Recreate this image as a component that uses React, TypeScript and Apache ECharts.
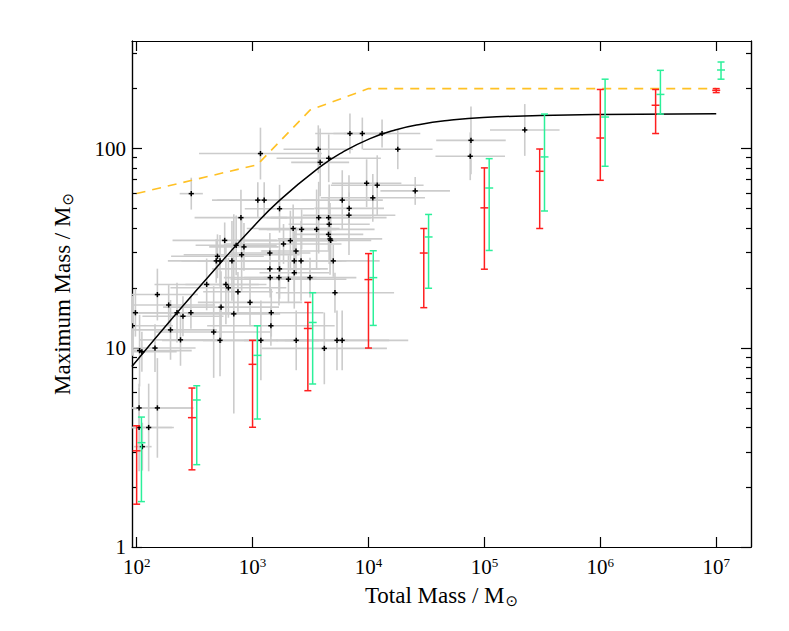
import React, { useEffect, useRef } from "react";
import * as echarts from "echarts";

// ---- Observed clusters (black crosses with grey error bars) ----
const clusterMass = [
  1170, 296, 1110, 1260, 794, 1710, 575, 722, 843, 498, 805, 1410, 486, 524, 664, 1410, 1710, 1420, 1690,
  6920, 8850, 13100, 17900, 3690, 3830, 4540, 9640, 11900, 25300, 10900, 5940, 6820, 6790, 3720, 4530, 4580,
  2240, 2650, 3570, 4520, 4660, 4720, 2120, 1850, 2370, 2290, 2620, 4970, 2290, 2040, 3130,
  402, 589, 619, 748, 151, 189, 951, 535, 97.6, 223, 251, 294, 689, 1450, 196, 462, 1440, 239, 524, 1180,
  144, 106, 111, 92, 105, 151, 105, 127, 112, 5140, 2380, 4160, 5350, 5930, 76600, 75500, 223000,
];
const clusterMassErrDex = [
  0.53, 0.1, 0.35, 0.45, 0.4, 0.3, 0.45, 0.35, 0.3, 0.4, 0.5, 0.35, 0.3, 0.45, 0.3, 0.5, 0.35, 0.4, 0.3,
  0.3, 0.25, 0.33, 0.3, 0.3, 0.25, 0.45, 0.3, 0.4, 0.3, 0.45, 0.35, 0.3, 0.4, 0.45, 0.5, 0.35,
  0.4, 0.3, 0.5, 0.3, 0.45, 0.35, 0.4, 0.5, 0.3, 0.45, 0.35, 0.4, 0.3, 0.5, 0.4,
  0.45, 0.35, 0.5, 0.3, 0.35, 0.4, 0.45, 0.5, 0.4, 0.5, 0.35, 0.45, 0.4, 0.45, 0.4, 0.5, 0.55, 0.35, 0.5, 0.5,
  0.35, 0.45, 0.3, 0.35, 0.47, 0.3, 0.3, 0.2, 0.08, 0.51, 0.45, 0.54, 0.45, 0.57, 0.3, 0.3, 0.3,
];
const clusterMaxMass = [
  94.4, 59.4, 55.1, 55.1, 45.0, 49.9, 34.6, 32.7, 32.1, 28.8, 29.3, 29.9, 27.3, 27.3, 27.3, 24.9, 24.9, 22.5, 22.5,
  119, 119, 119, 99.2, 99.2, 85.3, 89.4, 67.0, 65.5, 61.3, 56.6, 55.1, 50.1, 46.3, 45.0, 45.0, 41.7,
  39.7, 39.3, 39.3, 37.1, 35.2, 34.6, 34.5, 33.2, 30.6, 27.3, 27.3, 27.3, 23.8, 22.1, 22.5,
  20.8, 20.8, 20.0, 19.1, 18.5, 16.4, 16.9, 16.0, 15.0, 15.0, 14.4, 15.0, 14.8, 15.0, 12.3, 12.0, 12.9, 10.96, 10.9, 10.9,
  9.97, 9.68, 9.55, 12.9, 4.99, 4.99, 3.98, 3.98, 3.19, 18.9, 10.9, 9.93, 10.9, 10.9, 110, 91.5, 124,
];
const clusterMaxMassErrDex = [
  0.13, 0.08, 0.09, 0.09, 0.14, 0.12, 0.09, 0.15, 0.12, 0.11, 0.18, 0.1, 0.11, 0.13, 0.2, 0.12, 0.15, 0.1, 0.14,
  0.1, 0.08, 0.07, 0.1, 0.12, 0.17, 0.12, 0.12, 0.15, 0.07, 0.12, 0.15, 0.08, 0.2, 0.18, 0.1, 0.2,
  0.12, 0.1, 0.2, 0.08, 0.18, 0.12, 0.15, 0.1, 0.12, 0.15, 0.2, 0.08, 0.18, 0.12, 0.1,
  0.13, 0.2, 0.15, 0.1, 0.13, 0.1, 0.12, 0.18, 0.12, 0.15, 0.1, 0.08, 0.5, 0.12, 0.15, 0.23, 0.1, 0.13, 0.18, 0.2,
  0.12, 0.18, 0.1, 0.15, 0.1, 0.25, 0.22, 0.22, 0.12, 0.1, 0.15, 0.18, 0.15, 0.15, 0.17, 0.12, 0.13,
];

// ---- Model A (red) ----
const redMass = [100, 300, 1000, 3000, 10000, 30000, 100000, 300000, 1000000, 3000000, 10000000];
const redMid = [3.04, 4.46, 8.26, 12.5, 22.0, 29.9, 50.4, 76.9, 113, 165, 196];
const redLo = [1.64, 2.44, 3.99, 6.09, 9.97, 15.9, 24.8, 39.7, 69.3, 119, 191];
const redHi = [4.06, 6.28, 10.9, 16.9, 29.7, 39.7, 80, 99.5, 198, 198, 200];

// ---- Model B (green) ----
const greenMass = [110, 330, 1100, 3300, 11000, 33000, 110000, 330000, 1100000, 3300000, 11000000];
const greenMid = [3.34, 5.47, 9.16, 13.4, 22.5, 36.0, 63.4, 90.8, 144, 187, 248];
const greenLo = [1.69, 2.59, 4.39, 6.58, 12.95, 19.9, 30.8, 48.6, 81.5, 149, 223];
const greenHi = [4.49, 6.45, 12.9, 18.9, 30.7, 46.7, 89, 149, 223, 247, 272];

// ---- Relation curve (black) ----
const curveMass = [91, 221, 524, 951, 1720, 3820, 6000, 10300, 17000, 27800, 50000, 97300, 302000, 1000000, 10000000];
const curveMax = [8.05, 14.9, 26.5, 38.9, 55.1, 80.9, 96, 112.2, 124, 132.2, 138.6, 143.2, 146.5, 148.3, 149.6];

// ---- Upper limit (orange dashed) ----
const limitMass = [100, 1100, 3130, 10000, 10000000];
const limitMax = [59.5, 83, 156, 200, 200];

// ---- Axes ----
const xMajorExp = [2, 3, 4, 5, 6, 7];
const yMajorLabels = ["1", "10", "100"];
const yMinorMult = [2, 3, 4, 5, 6, 7, 8, 9];

const L = Math.log10;
const SERIF = "Liberation Serif";

export default function App() {
  const ref = useRef<HTMLDivElement>(null);
  useEffect(() => {
    if (!ref.current) return;
    const chart = echarts.init(ref.current, undefined, { renderer: "svg" });
    const X_MIN = 1.96, X_MAX = 7.3, Y_MIN = 0, Y_MAX = 2.54;

    const yMinor: number[] = [];
    [1, 10, 100].forEach((d) => yMinorMult.forEach((m) => { const v = L(d * m); if (v < Y_MAX) yMinor.push(v); }));
    const yMajor = yMajorLabels.map((_, i) => i);

    const clusterData = clusterMass.map((m, i) => [L(m), L(clusterMaxMass[i]), clusterMassErrDex[i], clusterMaxMassErrDex[i]]);

    const errSeries = (xs: number[], mid: number[], lo: number[], hi: number[], color: string) => ({
      type: "custom",
      clip: true,
      silent: true,
      z: 5,
      encode: { x: 0, y: 1 },
      data: xs.map((x, i) => [L(x), L(mid[i]), L(lo[i]), L(hi[i])]),
      renderItem: (_p: any, api: any) => {
        const x = api.value(0);
        const m = api.coord([x, api.value(1)]);
        const lo = api.coord([x, api.value(2)]);
        const hi = api.coord([x, api.value(3)]);
        const st = { stroke: color, lineWidth: 1.5 };
        const w = 3.5;
        return {
          type: "group",
          children: [
            { type: "line", shape: { x1: m[0], y1: lo[1], x2: m[0], y2: hi[1] }, style: st },
            { type: "line", shape: { x1: m[0] - w, y1: lo[1], x2: m[0] + w, y2: lo[1] }, style: st },
            { type: "line", shape: { x1: m[0] - w, y1: hi[1], x2: m[0] + w, y2: hi[1] }, style: st },
            { type: "line", shape: { x1: m[0] - 4, y1: m[1], x2: m[0] + 4, y2: m[1] }, style: st },
          ],
        };
      },
    });

    const axisLine = { show: true, onZero: false, lineStyle: { color: "#000", width: 1.2 } };
    const baseY = { type: "value", min: Y_MIN, max: Y_MAX, splitLine: { show: false }, axisLine };
    const baseX = { type: "value", min: X_MIN, max: X_MAX, splitLine: { show: false }, axisLine };
    const subRich = { sub: { fontSize: 15, fontFamily: "DejaVu Sans", color: "#000", verticalAlign: "bottom", padding: [10, 0, 0, 1] } };

    chart.setOption({
      animation: false,
      backgroundColor: "#fff",
      grid: { left: 132, right: 38, top: 41, bottom: 84, containLabel: false },
      xAxis: [
        {
          ...baseX,
          position: "bottom",
          axisTick: { show: true, inside: true, length: 10, customValues: xMajorExp, lineStyle: { color: "#000", width: 1.2 } },
          axisLabel: {
            show: true,
            customValues: xMajorExp,
            margin: 9,
            color: "#000",
            fontFamily: SERIF,
            fontSize: 21,
            formatter: (v: number) => `10{sup|${Math.round(v)}}`,
            rich: { sup: { fontSize: 13, fontFamily: SERIF, color: "#000", verticalAlign: "top", lineHeight: 14 } },
          },
          name: "Total Mass / M{sub|⊙}",
          nameLocation: "middle",
          nameGap: 36,
          nameTextStyle: { color: "#000", fontFamily: SERIF, fontSize: 23, rich: subRich },
        },
        {
          ...baseX,
          position: "top",
          axisTick: { show: true, inside: true, length: 10, customValues: xMajorExp, lineStyle: { color: "#000", width: 1.2 } },
          axisLabel: { show: false },
        },
      ],
      yAxis: [
        {
          ...baseY,
          position: "left",
          axisTick: { show: true, inside: true, length: 10, customValues: yMajor, lineStyle: { color: "#000", width: 1.2 } },
          axisLabel: {
            show: true,
            customValues: yMajor,
            margin: 6,
            color: "#000",
            fontFamily: SERIF,
            fontSize: 21,
            formatter: (v: number) => yMajorLabels[Math.round(v)],
          },
          name: "Maximum Mass / M{sub|⊙}",
          nameLocation: "middle",
          nameRotate: 90,
          nameGap: 57,
          nameTextStyle: { color: "#000", fontFamily: SERIF, fontSize: 23, rich: subRich },
        },
        {
          ...baseY,
          position: "left",
          axisTick: { show: true, inside: true, length: 5, customValues: yMinor, lineStyle: { color: "#000", width: 1.2 } },
          axisLabel: { show: false },
        },
        {
          ...baseY,
          position: "right",
          axisTick: { show: true, inside: true, length: 10, customValues: yMajor, lineStyle: { color: "#000", width: 1.2 } },
          axisLabel: { show: false },
        },
        {
          ...baseY,
          position: "right",
          axisTick: { show: true, inside: true, length: 5, customValues: yMinor, lineStyle: { color: "#000", width: 1.2 } },
          axisLabel: { show: false },
        },
      ],
      series: [
        {
          type: "custom",
          clip: true,
          silent: true,
          z: 1,
          encode: { x: 0, y: 1 },
          data: clusterData,
          renderItem: (_p: any, api: any) => {
            const x = api.value(0), y = api.value(1), ex = api.value(2), ey = api.value(3);
            const a = api.coord([x - ex, y]);
            const b = api.coord([x + ex, y]);
            const c = api.coord([x, y - ey]);
            const d = api.coord([x, y + ey]);
            const st = { stroke: "#cccccc", lineWidth: 1.6 };
            return {
              type: "group",
              children: [
                { type: "line", shape: { x1: a[0], y1: a[1], x2: b[0], y2: b[1] }, style: st },
                { type: "line", shape: { x1: c[0], y1: c[1], x2: d[0], y2: d[1] }, style: st },
              ],
            };
          },
        },
        {
          type: "custom",
          clip: true,
          silent: true,
          z: 3,
          encode: { x: 0, y: 1 },
          data: clusterData,
          renderItem: (_p: any, api: any) => {
            const p = api.coord([api.value(0), api.value(1)]);
            const st = { stroke: "#000", lineWidth: 1.5 };
            const h = 2.6;
            return {
              type: "group",
              children: [
                { type: "line", shape: { x1: p[0] - h, y1: p[1], x2: p[0] + h, y2: p[1] }, style: st },
                { type: "line", shape: { x1: p[0], y1: p[1] - h, x2: p[0], y2: p[1] + h }, style: st },
              ],
            };
          },
        },
        {
          type: "line",
          silent: true,
          z: 4,
          showSymbol: false,
          smooth: false,
          data: limitMass.map((m, i) => [L(m), L(limitMax[i])]),
          lineStyle: { color: "#FFC125", width: 1.6, type: [9, 7] },
        },
        {
          type: "line",
          silent: true,
          z: 4,
          showSymbol: false,
          smooth: 0.5,
          data: curveMass.map((m, i) => [L(m), L(curveMax[i])]),
          lineStyle: { color: "#000", width: 1.5 },
        },
        errSeries(redMass, redMid, redLo, redHi, "#ff1f1f"),
        errSeries(greenMass, greenMid, greenLo, greenHi, "#2bf09a"),
      ],
    } as any);
    return () => chart.dispose();
  }, []);
  return <div ref={ref} style={{ position: "fixed", left: 0, top: 0, width: 789, height: 631, background: "#fff" }} />;
}
